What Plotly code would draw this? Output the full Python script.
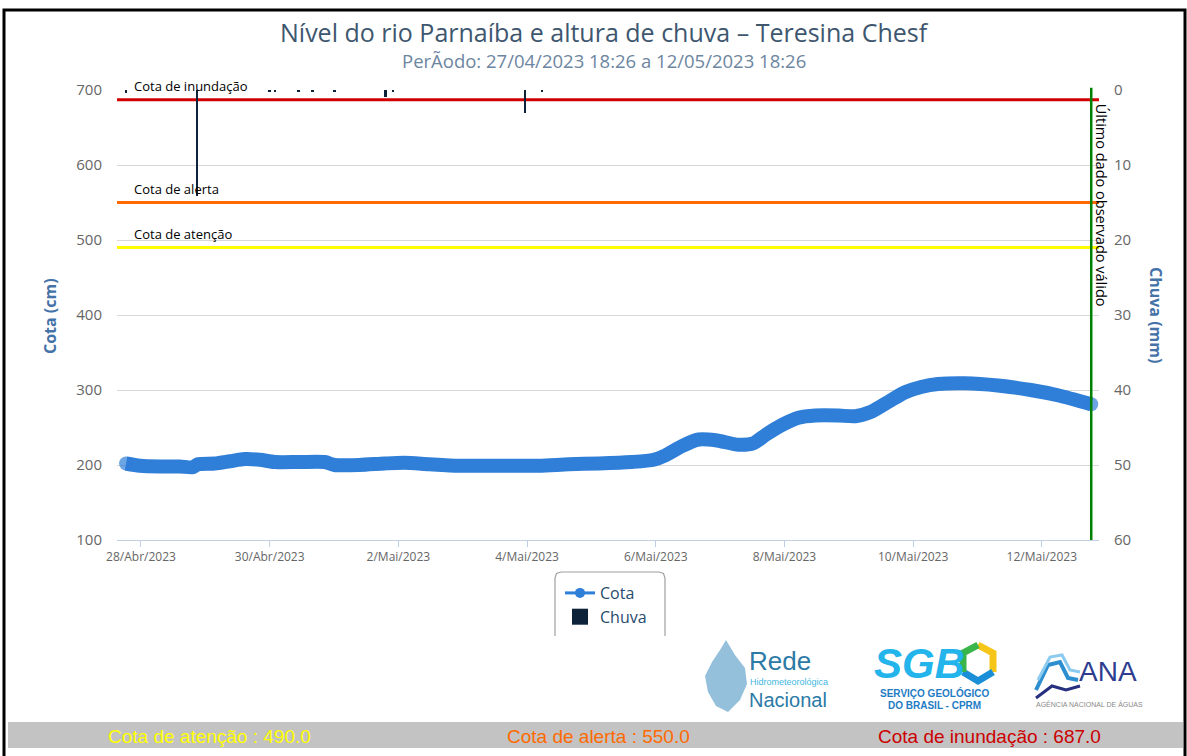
import plotly.graph_objects as go

# ---------------- data ----------------
COTA_TIMES = [
    "2023-04-27 18:26", "2023-04-27 23:38", "2023-04-28 07:04", "2023-04-28 14:31",
    "2023-04-28 19:21", "2023-04-28 21:13", "2023-04-29 03:32", "2023-04-29 09:07",
    "2023-04-29 14:41", "2023-04-29 20:17", "2023-04-30 01:52", "2023-04-30 11:10",
    "2023-04-30 20:28", "2023-05-01 00:11", "2023-05-01 09:29", "2023-05-01 18:47",
    "2023-05-02 02:14", "2023-05-02 11:33", "2023-05-02 22:42", "2023-05-03 13:35",
    "2023-05-04 04:28", "2023-05-04 15:38", "2023-05-05 02:47", "2023-05-05 15:04",
    "2023-05-05 23:15", "2023-05-06 03:43", "2023-05-06 09:40", "2023-05-06 16:00",
    "2023-05-06 22:19", "2023-05-07 06:53", "2023-05-07 12:27", "2023-05-07 16:55",
    "2023-05-07 22:52", "2023-05-08 05:12", "2023-05-08 11:32", "2023-05-08 20:05",
    "2023-05-09 02:25", "2023-05-09 08:23", "2023-05-09 14:41", "2023-05-09 21:01",
    "2023-05-10 02:59", "2023-05-10 09:18", "2023-05-10 19:21", "2023-05-11 07:38",
    "2023-05-11 19:54", "2023-05-12 05:57", "2023-05-12 18:26",
]
COTA_VALUES = [
    202, 199, 198, 198,
    197, 201, 202, 205,
    208, 207, 204, 204,
    204, 200, 200, 202,
    203, 201, 199, 199,
    199, 201, 202, 204,
    207, 213, 225, 234,
    233, 227, 229, 240,
    253, 263, 266, 266,
    265, 271, 284, 297,
    304, 308, 309, 306,
    300, 293, 281,
]

CHUVA_TIMES = [
    "2023-04-27 18:26", "2023-04-28 20:50", "2023-04-30 00:00", "2023-04-30 02:00",
    "2023-04-30 10:47", "2023-04-30 16:00", "2023-05-01 00:13", "2023-05-01 19:12",
    "2023-05-01 22:00", "2023-05-03 23:16", "2023-05-04 05:34",
]
CHUVA_VALUES = [0.4, 14.1, 0.2, 0.2, 0.2, 0.2, 0.3, 0.9, 0.2, 3.0, 0.2]

TICK_DATES = ["2023-04-28", "2023-04-30", "2023-05-02", "2023-05-04",
              "2023-05-06", "2023-05-08", "2023-05-10", "2023-05-12"]
TICK_TEXT = ["28/Abr/2023", "30/Abr/2023", "2/Mai/2023", "4/Mai/2023",
             "6/Mai/2023", "8/Mai/2023", "10/Mai/2023", "12/Mai/2023"]

THRESH_NAMES = ["Cota de atenção", "Cota de alerta", "Cota de inundação"]
THRESH_VALUES = [490.0, 550.0, 687.0]

LAST_TIME = "2023-05-12 18:26"
X_RANGE = ["2023-04-27 15:03", "2023-05-12 21:20"]

TITLE = "Nível do rio Parnaíba e altura de chuva – Teresina Chesf"
SUBTITLE = "PerÃodo: 27/04/2023 18:26 a 12/05/2023 18:26"

# ---------------- styles ----------------
THRESH_COLORS = ["#ffff00", "#ff6a00", "#d00000"]
BOTTOM_COLORS = ["#ffff00", "#ff6a00", "#cc0000"]
COTA_COLOR = "#2f7ed8"
CHUVA_COLOR = "#0d233a"
FONT = "Open Sans, Noto Sans, sans-serif"
NARROW = "Liberation Sans, Arial, sans-serif"

W, H = 1187, 756
L, R, T, B = 117, 1099, 90, 540


def px(x):
    return (x - L) / (R - L)


def py(y):
    return (B - y) / (B - T)


def path(points, close=True):
    s = "M " + " L ".join(f"{px(a):.5f},{py(b):.5f}" for a, b in points)
    return s + (" Z" if close else "")


fig = go.Figure()

n = len(COTA_VALUES)
sizes = [14] + [0] * (n - 2) + [14]
fig.add_trace(go.Scatter(
    x=COTA_TIMES, y=COTA_VALUES, name="Cota", mode="lines+markers", showlegend=False,
    line=dict(color=COTA_COLOR, width=14, shape="spline", smoothing=0.7),
    marker=dict(color=COTA_COLOR, size=sizes, line=dict(width=0)),
    yaxis="y", hoverinfo="x+y",
))
fig.add_trace(go.Bar(
    x=CHUVA_TIMES, y=CHUVA_VALUES, name="Chuva", yaxis="y2", showlegend=False,
    marker=dict(color=CHUVA_COLOR, line=dict(width=0)),
    width=[3.6e6 * 0.9] * len(CHUVA_VALUES),
))
# legend entries
fig.add_trace(go.Scatter(
    x=[None], y=[None], name="Cota", mode="lines+markers",
    line=dict(color=COTA_COLOR, width=3), marker=dict(color=COTA_COLOR, size=10, symbol="circle"),
))
fig.add_trace(go.Scatter(
    x=[None], y=[None], name="Chuva", mode="markers",
    marker=dict(color=CHUVA_COLOR, size=17, symbol="square", line=dict(width=0)),
))

shapes = []
annotations = []

# threshold lines and labels
for name, val, col in zip(THRESH_NAMES, THRESH_VALUES, THRESH_COLORS):
    shapes.append(dict(type="line", xref="paper", x0=0, x1=1, yref="y", y0=val, y1=val,
                       line=dict(color=col, width=3), layer="between"))
    annotations.append(dict(text=name, xref="paper", x=px(132), xanchor="left",
                            yref="y", y=val, yanchor="bottom", yshift=3, showarrow=False,
                            font=dict(family=FONT, size=13, color="#000000")))

# last observed line
shapes.append(dict(type="line", xref="x", x0=LAST_TIME, x1=LAST_TIME, yref="paper",
                   y0=0, y1=1.005, line=dict(color="#008000", width=2.5), layer="above"))
annotations.append(dict(text="Último dado observado válido", xref="x", x=LAST_TIME, xshift=11,
                        yref="paper", y=py(205), xanchor="center", yanchor="middle",
                        textangle=90, showarrow=False,
                        font=dict(family=FONT, size=14.5, color="#000000")))

# title & subtitle
annotations.append(dict(text=TITLE, xref="paper", x=px(604), yref="paper", y=py(32),
                        xanchor="center", yanchor="middle", showarrow=False,
                        font=dict(family=FONT, size=25, color="#3E576F")))
annotations.append(dict(text=SUBTITLE, xref="paper", x=px(604), yref="paper", y=py(61),
                        xanchor="center", yanchor="middle", showarrow=False,
                        font=dict(family=FONT, size=18.5, color="#6D869F")))

# axis titles
annotations.append(dict(text="<b>Cota (cm)</b>", xref="paper", x=px(50), yref="paper", y=py(316),
                        xanchor="center", yanchor="middle", textangle=-90, showarrow=False,
                        font=dict(family=FONT, size=16, color="#4572A7")))
annotations.append(dict(text="<b>Chuva (mm)</b>", xref="paper", x=px(1156), yref="paper", y=py(315),
                        xanchor="center", yanchor="middle", textangle=90, showarrow=False,
                        font=dict(family=FONT, size=16, color="#4572A7")))

# legend frame (open at the bottom, clipped by the chart container)
r = 6
shapes.append(dict(type="path", xref="paper", yref="paper",
                   path=path([(555, 636), (555, 572 + r), (556.5, 573.5), (555 + r, 572),
                              (665 - r, 572), (663.5, 573.5), (665, 572 + r), (665, 636)], close=False),
                   line=dict(color="#a0a0a0", width=1.2), fillcolor="rgba(0,0,0,0)"))

# bottom grey bar
shapes.append(dict(type="rect", xref="paper", yref="paper", x0=px(8), x1=px(1183),
                   y0=py(748), y1=py(722), fillcolor="#c3c3c3", line=dict(width=0)))
for name, val, col, cx in zip(THRESH_NAMES, THRESH_VALUES, BOTTOM_COLORS, [209, 598, 989]):
    annotations.append(dict(text=f"{name} : {val:.1f}", xref="paper", x=px(cx), yref="paper",
                            y=py(736), xanchor="center", yanchor="middle", showarrow=False,
                            font=dict(family=NARROW, size=19, color=col)))

# outer black frame
shapes.append(dict(type="rect", xref="paper", yref="paper", x0=px(4), x1=px(1185),
                   y0=py(790), y1=py(10), line=dict(color="#000000", width=3),
                   fillcolor="rgba(0,0,0,0)"))

# ---- logos (approximated) ----
# Rede Hidrometeorológica Nacional
shapes.append(dict(type="path", xref="paper", yref="paper",
                   path=path([(726, 640), (735, 655), (745, 668), (747, 684), (740, 700),
                              (728, 712), (716, 706), (708, 692), (705, 676), (712, 662), (720, 650)]),
                   fillcolor="rgba(60,140,190,0.55)", line=dict(width=0)))
annotations.append(dict(text="Rede", xref="paper", x=px(747), yref="paper", y=py(661),
                        xanchor="left", yanchor="middle", showarrow=False,
                        font=dict(family=NARROW, size=26, color="#2c7aa6")))
annotations.append(dict(text="Hidrometeorológica", xref="paper", x=px(748), yref="paper", y=py(682),
                        xanchor="left", yanchor="middle", showarrow=False,
                        font=dict(family=NARROW, size=9, color="#43b8e0")))
annotations.append(dict(text="Nacional", xref="paper", x=px(747), yref="paper", y=py(700),
                        xanchor="left", yanchor="middle", showarrow=False,
                        font=dict(family=NARROW, size=20, color="#2c7aa6")))
# SGB
annotations.append(dict(text="<b><i>SGB</i></b>", xref="paper", x=px(872), yref="paper", y=py(663),
                        xanchor="left", yanchor="middle", showarrow=False,
                        font=dict(family="Liberation Sans, Arial, sans-serif", size=42, color="#22b4ea")))
shapes.append(dict(type="path", xref="paper", yref="paper",
                   path=path([(978, 645), (993, 653), (993, 672)], close=False),
                   line=dict(color="#f5c518", width=7)))
shapes.append(dict(type="path", xref="paper", yref="paper",
                   path=path([(993, 672), (978, 681), (963, 672)], close=False),
                   line=dict(color="#1a8fd8", width=7)))
shapes.append(dict(type="path", xref="paper", yref="paper",
                   path=path([(963, 672), (963, 653), (978, 645)], close=False),
                   line=dict(color="#3ab54a", width=7)))
annotations.append(dict(text="<b>SERVIÇO GEOLÓGICO</b>", xref="paper", x=px(934), yref="paper", y=py(693),
                        xanchor="center", yanchor="middle", showarrow=False,
                        font=dict(family="Liberation Sans, Arial, sans-serif", size=10, color="#1f7cc4")))
annotations.append(dict(text="<b>DO BRASIL - CPRM</b>", xref="paper", x=px(934), yref="paper", y=py(705),
                        xanchor="center", yanchor="middle", showarrow=False,
                        font=dict(family="Liberation Sans, Arial, sans-serif", size=10, color="#1f7cc4")))
# ANA
shapes.append(dict(type="path", xref="paper", yref="paper",
                   path=path([(1036, 690), (1048, 665), (1060, 662), (1068, 678), (1078, 680)], close=False),
                   line=dict(color="#2d8fd0", width=4)))
shapes.append(dict(type="path", xref="paper", yref="paper",
                   path=path([(1038, 680), (1050, 657), (1062, 655), (1070, 670), (1080, 672)], close=False),
                   line=dict(color="#8ccbef", width=3)))
shapes.append(dict(type="path", xref="paper", yref="paper",
                   path=path([(1036, 698), (1052, 686), (1066, 690), (1080, 686)], close=False),
                   line=dict(color="#26307f", width=3)))
annotations.append(dict(text="ANA", xref="paper", x=px(1077), yref="paper", y=py(671),
                        xanchor="left", yanchor="middle", showarrow=False,
                        font=dict(family="Liberation Sans, Arial, sans-serif", size=28, color="#2e3d8e")))
annotations.append(dict(text="AGÊNCIA NACIONAL DE ÁGUAS", xref="paper", x=px(1089), yref="paper", y=py(704),
                        xanchor="center", yanchor="middle", showarrow=False,
                        font=dict(family="Liberation Sans, Arial, sans-serif", size=7, color="#8a8a8a")))

fig.update_layout(
    width=W, height=H,
    margin=dict(l=L, r=W - R, t=T, b=H - B, pad=0, autoexpand=False),
    paper_bgcolor="#ffffff", plot_bgcolor="#ffffff",
    font=dict(family=FONT, color="#666666"),
    showlegend=True,
    legend=dict(x=px(560), y=py(576), xanchor="left", yanchor="top", orientation="v",
                bgcolor="rgba(0,0,0,0)", borderwidth=0, traceorder="normal",
                font=dict(family=FONT, size=16, color="#274b6d"), itemwidth=30),
    xaxis=dict(type="date", range=X_RANGE, tickvals=TICK_DATES, ticktext=TICK_TEXT,
               showgrid=False, zeroline=False, showline=True, linecolor="#C0D0E0", linewidth=1,
               ticks="outside", ticklen=6, tickcolor="#C0D0E0",
               tickfont=dict(family=FONT, size=12, color="#666666")),
    yaxis=dict(range=[100, 700], tickvals=[100, 200, 300, 400, 500, 600, 700],
               showgrid=True, gridcolor="#d8d8d8", gridwidth=1, zeroline=False,
               showline=False, ticks="", ticklabelstandoff=14,
               tickfont=dict(family=FONT, size=15, color="#666666")),
    yaxis2=dict(range=[60, 0], tickvals=[0, 10, 20, 30, 40, 50, 60], overlaying="y", side="right",
                showgrid=False, zeroline=False, showline=False, ticks="", ticklabelstandoff=14,
                tickfont=dict(family=FONT, size=15, color="#666666")),
    bargap=0,
    shapes=shapes, annotations=annotations,
)

fig.write_html("out.html", config={"displayModeBar": False},
               post_script="document.body.style.margin='0';document.body.style.overflow='hidden';")
